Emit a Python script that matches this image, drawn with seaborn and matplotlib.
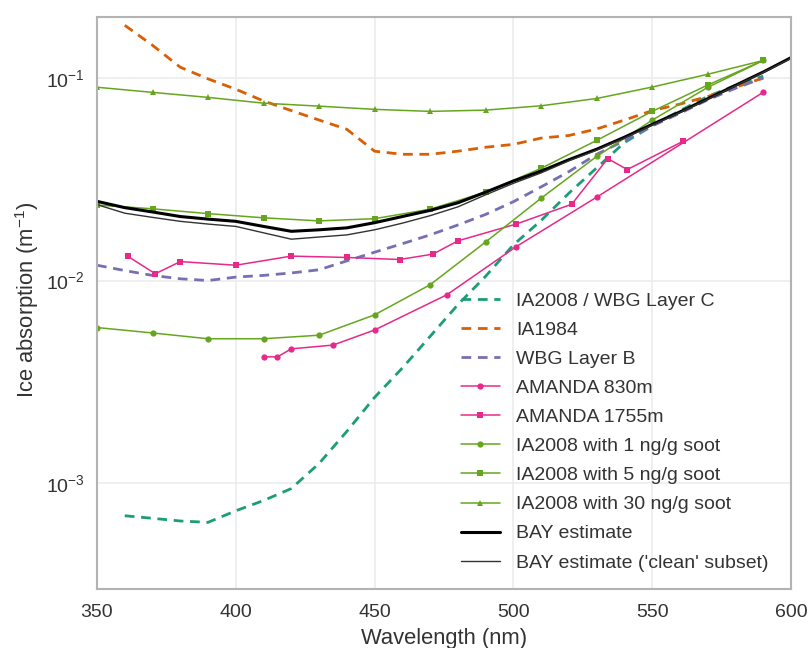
import numpy as np
import pandas as pd
import matplotlib
matplotlib.use("Agg")
import matplotlib.pyplot as plt
import seaborn as sns
from matplotlib.ticker import LogLocator, FixedLocator

# ---------------- data ----------------
wl_ia2008 = [360, 370, 380, 390, 400, 410, 420, 430, 440, 450, 460, 470, 480,
             490, 500, 510, 520, 530, 540, 550, 560, 570, 580, 590]
abs_ia2008 = [6.9e-4, 6.7e-4, 6.5e-4, 6.4e-4, 7.3e-4, 8.2e-4, 9.4e-4, 1.25e-3,
              1.8e-3, 2.65e-3, 3.7e-3, 5.3e-3, 7.6e-3, 1.05e-2, 1.5e-2, 1.98e-2,
              2.7e-2, 3.6e-2, 4.8e-2, 5.8e-2, 6.9e-2, 8.1e-2, 9.2e-2, 1.02e-1]

wl_ia1984 = [360, 370, 380, 390, 400, 410, 420, 430, 440, 450, 460, 470, 480,
             490, 500, 510, 520, 530, 540, 550, 560, 570, 580, 590]
abs_ia1984 = [0.182, 0.145, 0.113, 0.099, 0.088, 0.077, 0.069, 0.062, 0.0558,
              0.0435, 0.042, 0.042, 0.0435, 0.0455, 0.047, 0.0505, 0.052, 0.056,
              0.062, 0.069, 0.0743, 0.081, 0.09, 0.1]

wl_wbgb = [350, 360, 370, 380, 390, 400, 410, 420, 430, 440, 450, 460, 470, 480,
           490, 500, 510, 520, 530, 540, 550, 560, 570, 580, 590]
abs_wbgb = [0.0119, 0.0112, 0.0106, 0.0102, 0.0100, 0.0104, 0.0106, 0.0109,
            0.0113, 0.0125, 0.0138, 0.0152, 0.0168, 0.0188, 0.0212, 0.0245,
            0.029, 0.0345, 0.042, 0.049, 0.058, 0.067, 0.078, 0.089, 0.1]

wl_a830 = [410, 415, 420, 435, 450, 476, 501, 530, 590]
abs_a830 = [0.0042, 0.0042, 0.0046, 0.0048, 0.0057, 0.0085, 0.0147, 0.0258, 0.085]

wl_a1755 = [361, 371, 380, 400, 420, 440, 459, 471, 480, 501, 521, 534, 541, 561]
abs_a1755 = [0.0132, 0.0108, 0.0124, 0.0119, 0.0132, 0.0130, 0.0127, 0.0135,
             0.0157, 0.0190, 0.0238, 0.0400, 0.0353, 0.0486]

wl_soot = [350, 370, 390, 410, 430, 450, 470, 490, 510, 530, 550, 570, 590]
abs_soot1 = [0.00586, 0.00551, 0.00516, 0.00516, 0.00537, 0.00677, 0.00953,
             0.0155, 0.0255, 0.041, 0.0619, 0.0899, 0.122]
abs_soot5 = [0.0236, 0.0226, 0.0214, 0.0204, 0.0197, 0.0202, 0.0225, 0.0273,
             0.0358, 0.0492, 0.0684, 0.0923, 0.122]
abs_soot30 = [0.090, 0.0849, 0.0802, 0.0751, 0.0726, 0.0700, 0.0684, 0.0694,
              0.0729, 0.0792, 0.0902, 0.1043, 0.122]

wl_bay = [350, 360, 370, 380, 390, 400, 410, 420, 430, 440, 450, 460, 470, 480,
          490, 500, 510, 520, 530, 540, 550, 560, 570, 580, 590, 600]
abs_bay = [0.0246, 0.0229, 0.0218, 0.0207, 0.0201, 0.0196, 0.0185, 0.0175,
           0.0178, 0.0182, 0.0193, 0.0207, 0.0222, 0.0242, 0.0273, 0.031,
           0.0347, 0.0395, 0.0445, 0.051, 0.059, 0.068, 0.079, 0.092, 0.107, 0.126]
abs_bay_clean = [0.0237, 0.0215, 0.0205, 0.0196, 0.0190, 0.0185, 0.0172, 0.0160,
                 0.0164, 0.0168, 0.0178, 0.0192, 0.0209, 0.0231, 0.0265, 0.0302,
                 0.0340, 0.039, 0.044, 0.0505, 0.0585, 0.0675, 0.0785, 0.0915,
                 0.1065, 0.125]

labels = ["IA2008 / WBG Layer C", "IA1984", "WBG Layer B", "AMANDA 830m",
          "AMANDA 1755m", "IA2008 with 1 ng/g soot", "IA2008 with 5 ng/g soot",
          "IA2008 with 30 ng/g soot", "BAY estimate", "BAY estimate ('clean' subset)"]

xticks = [350, 400, 450, 500, 550, 600]

# ---------------- style ----------------
sns.set_style("whitegrid", {"grid.color": "#ebebeb", "axes.edgecolor": "#b3b3b3"})
plt.rcParams["font.family"] = ["Liberation Sans", "DejaVu Sans"]
plt.rcParams["mathtext.fontset"] = "custom"
plt.rcParams["mathtext.rm"] = "Liberation Sans"
plt.rcParams["mathtext.it"] = "Liberation Sans:italic"
plt.rcParams["mathtext.bf"] = "Liberation Sans:bold"
plt.rcParams["font.size"] = 14

pal = sns.color_palette("Dark2", 5)
c_teal, c_orange, c_purple, c_pink, c_green = pal

fig = plt.figure(figsize=(8.11, 6.48), dpi=100)
ax = fig.add_axes([97 / 811, 1 - 589 / 648, 694 / 811, 572 / 648])

dash_kw = dict(linestyle=(0, (3.5, 2.4)), linewidth=2.0)
sns.lineplot(x=wl_ia2008, y=abs_ia2008, ax=ax, color=c_teal, label=labels[0], **dash_kw)
sns.lineplot(x=wl_ia1984, y=abs_ia1984, ax=ax, color=c_orange, label=labels[1], **dash_kw)
sns.lineplot(x=wl_wbgb, y=abs_wbgb, ax=ax, color=c_purple, label=labels[2], **dash_kw)
sns.lineplot(x=wl_a830, y=abs_a830, ax=ax, color=c_pink, label=labels[3],
             marker="o", markersize=4.5, markeredgewidth=0, linewidth=1.1)
sns.lineplot(x=wl_a1755, y=abs_a1755, ax=ax, color=c_pink, label=labels[4],
             marker="s", markersize=5, markeredgewidth=0, linewidth=1.1)
sns.lineplot(x=wl_soot, y=abs_soot1, ax=ax, color=c_green, label=labels[5],
             marker="o", markersize=4.5, markeredgewidth=0, linewidth=1.1)
sns.lineplot(x=wl_soot, y=abs_soot5, ax=ax, color=c_green, label=labels[6],
             marker="s", markersize=5, markeredgewidth=0, linewidth=1.1)
sns.lineplot(x=wl_soot, y=abs_soot30, ax=ax, color=c_green, label=labels[7],
             marker="^", markersize=5, markeredgewidth=0, linewidth=1.1)
sns.lineplot(x=wl_bay, y=abs_bay, ax=ax, color="black", label=labels[8], linewidth=2.2)
sns.lineplot(x=wl_bay, y=abs_bay_clean, ax=ax, color="#333333", label=labels[9], linewidth=1.0)

ax.set_yscale("log")
ax.set_xlim(350, 600)
ax.set_ylim(3e-4, 0.2)
ax.xaxis.set_major_locator(FixedLocator(xticks))
ax.yaxis.set_major_locator(LogLocator(base=10, numticks=10))
ax.yaxis.set_minor_locator(plt.NullLocator())
ax.grid(True, which="major", color="#ebebeb", linewidth=1.1)
ax.tick_params(axis="x", labelsize=14, pad=10.5, length=0, colors="#333333")
ax.tick_params(axis="y", labelsize=14, pad=9, length=0, colors="#333333")
for s in ax.spines.values():
    s.set_visible(True)
    s.set_color("#b3b3b3")
    s.set_linewidth(1.5)

ax.set_xlabel("Wavelength (nm)", fontsize=15.8, color="#333333", labelpad=5)
ax.set_ylabel("Ice absorption (m$^{-1}$)", fontsize=15.8, color="#333333")
ax.yaxis.set_label_coords(-0.081, 0.505)

leg = ax.legend(loc="lower right", bbox_to_anchor=(0.993, 0.0), frameon=False,
                fontsize=14, labelspacing=0.59, handlelength=2.0, handletextpad=0.85)
for t in leg.get_texts():
    t.set_color("#333333")

fig.savefig("out.png", dpi=100)
